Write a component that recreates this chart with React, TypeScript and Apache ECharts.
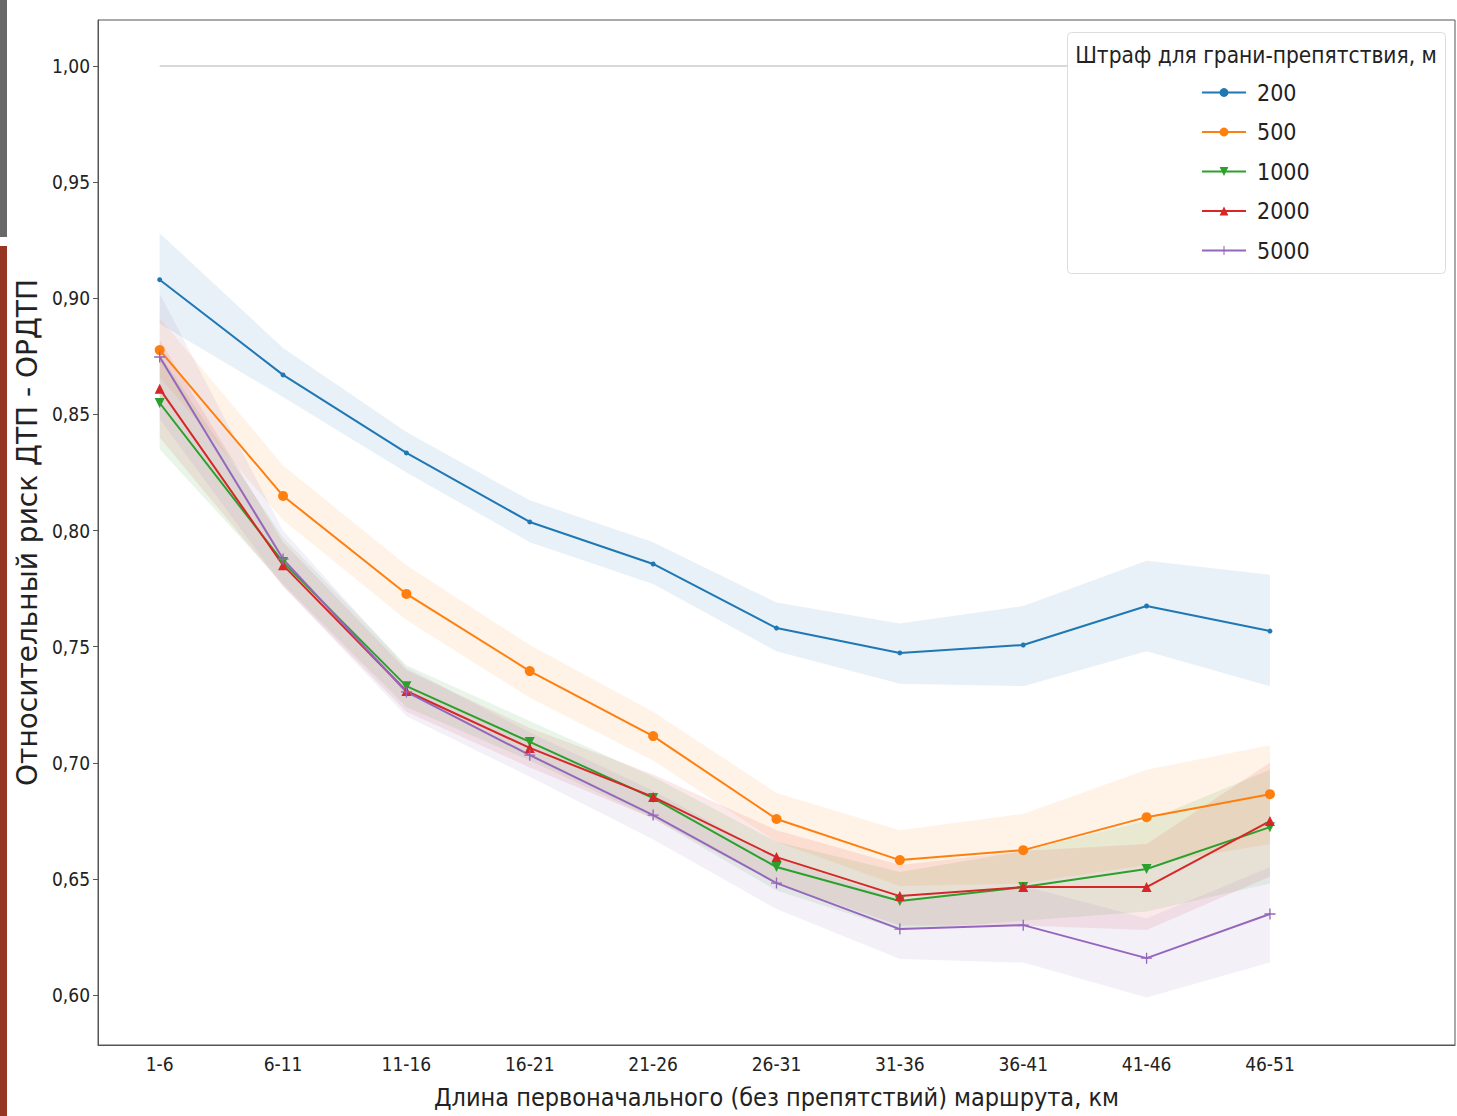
import React, { useEffect, useRef } from "react";
import * as echarts from "echarts";

const categories = ["1-6", "6-11", "11-16", "16-21", "21-26", "26-31", "31-36", "36-41", "41-46", "46-51", ""];
const yTicks = [0.6, 0.65, 0.7, 0.75, 0.8, 0.85, 0.9, 0.95, 1.0];
const seriesNames = ["200", "500", "1000", "2000", "5000"];
const legendTitle = "Штраф для грани-препятствия, м";
const xTitle = "Длина первоначального (без препятствий) маршрута, км";
const yTitle = "Относительный риск ДТП - ОРДТП";

const baseline = [1, 1, 1, 1, 1, 1, 1, 1, 1, 1];

const mean200 = [0.908, 0.867, 0.8334, 0.8037, 0.7856, 0.758, 0.7473, 0.7507, 0.7675, 0.7567];
const low200 = [0.889, 0.8575, 0.825, 0.795, 0.777, 0.748, 0.734, 0.733, 0.748, 0.733];
const high200 = [0.928, 0.8786, 0.8424, 0.813, 0.795, 0.769, 0.76, 0.7675, 0.787, 0.781];

const mean500 = [0.8777, 0.8149, 0.7727, 0.7395, 0.7115, 0.6758, 0.6581, 0.6624, 0.6766, 0.6865];
const low500 = [0.866, 0.8045, 0.7615, 0.728, 0.701, 0.666, 0.647, 0.648, 0.656, 0.665];
const high500 = [0.8915, 0.828, 0.785, 0.7507, 0.722, 0.687, 0.671, 0.678, 0.697, 0.7076];

const mean1000 = [0.8549, 0.7864, 0.733, 0.709, 0.6848, 0.6551, 0.6405, 0.6465, 0.6543, 0.6723];
const low1000 = [0.835, 0.777, 0.724, 0.701, 0.676, 0.645, 0.628, 0.632, 0.636, 0.648];
const high1000 = [0.876, 0.797, 0.742, 0.718, 0.694, 0.666, 0.653, 0.662, 0.675, 0.697];

const mean2000 = [0.861, 0.7851, 0.7309, 0.7064, 0.6853, 0.6594, 0.6426, 0.6465, 0.6465, 0.6749];
const low2000 = [0.84, 0.776, 0.722, 0.698, 0.676, 0.648, 0.63, 0.63, 0.628, 0.651];
const high2000 = [0.882, 0.795, 0.74, 0.715, 0.695, 0.671, 0.656, 0.662, 0.665, 0.7];

const mean5000 = [0.8747, 0.7877, 0.7305, 0.7033, 0.6775, 0.6482, 0.6284, 0.6301, 0.6159, 0.6349];
const low5000 = [0.848, 0.776, 0.72, 0.694, 0.667, 0.637, 0.6155, 0.614, 0.599, 0.614];
const high5000 = [0.902, 0.8, 0.741, 0.713, 0.688, 0.659, 0.641, 0.647, 0.633, 0.655];

const means = [mean200, mean500, mean1000, mean2000, mean5000];
const lows = [low200, low500, low1000, low2000, low5000];
const highs = [high200, high500, high1000, high2000, high5000];

const colors = ["#1f77b4", "#ff7f0e", "#2ca02c", "#d62728", "#9467bd"];
const crossPath = "path://M4.4,0h1.2v4.4h4.4v1.2h-4.4v4.4h-1.2v-4.4h-4.4v-1.2h4.4z";
const symbols = ["circle", "circle", "triangle", "triangle", crossPath];
const symbolSizes = [5, 10, 10, 10, 11];
const symbolRotates = [0, 0, 180, 0, 0];

const COND = "'DejaVu Sans Condensed', 'DejaVu Sans', sans-serif";

export default function App() {
  const ref = useRef<HTMLDivElement>(null);
  useEffect(() => {
    if (!ref.current) return;
    const chart = echarts.init(ref.current, null, { renderer: "svg" });

    const bandSeries: any[] = [];
    means.forEach((_, k) => {
      bandSeries.push({
        type: "line",
        name: "low" + k,
        stack: "band" + k,
        data: lows[k],
        symbol: "none",
        lineStyle: { opacity: 0 },
        silent: true,
        z: 1,
      });
      bandSeries.push({
        type: "line",
        name: "band" + k,
        stack: "band" + k,
        data: highs[k].map((h, i) => +(h - lows[k][i]).toFixed(4)),
        symbol: "none",
        lineStyle: { opacity: 0 },
        areaStyle: { color: colors[k], opacity: 0.1 },
        silent: true,
        z: 1,
      });
    });

    const lineSeries = means.map((m, k) => ({
      type: "line",
      name: seriesNames[k],
      data: m,
      color: colors[k],
      symbol: symbols[k],
      symbolSize: symbolSizes[k],
      symbolRotate: symbolRotates[k],
      showAllSymbol: true,
      lineStyle: { width: 2, color: colors[k] },
      itemStyle: { color: colors[k] },
      z: 3,
    }));

    chart.setOption({
      animation: false,
      grid: {
        left: 98,
        top: 20,
        right: 2,
        bottom: 71,
        outerBoundsMode: "none",
        containLabel: false,
        show: true,
        borderColor: "#555",
        borderWidth: 1,
        backgroundColor: "transparent",
      },
      xAxis: {
        type: "category",
        data: categories,
        boundaryGap: true,
        name: xTitle,
        nameLocation: "middle",
        nameGap: 40,
        nameTextStyle: { fontFamily: COND, fontSize: 25, color: "#222" },
        axisLine: { lineStyle: { color: "#555", width: 1 } },
        axisTick: {
          alignWithLabel: true,
          length: 5,
          lineStyle: { color: "#555" },
          interval: (i: number) => i < 10,
        },
        axisLabel: {
          fontFamily: COND,
          fontSize: 19,
          color: "#222",
          margin: 9,
          interval: 0,
        },
        splitLine: { show: false },
      },
      yAxis: {
        type: "value",
        min: 0.5785,
        max: 1.0198,
        name: yTitle,
        nameLocation: "middle",
        nameGap: 54,
        nameRotate: 90,
        nameTextStyle: { fontFamily: "'DejaVu Sans', sans-serif", fontSize: 28, color: "#222" },
        axisLine: { show: true, lineStyle: { color: "#555", width: 1 } },
        axisTick: { show: true, length: 5, lineStyle: { color: "#555" }, customValues: yTicks },
        axisLabel: {
          fontFamily: COND,
          fontSize: 19,
          color: "#222",
          margin: 8,
          customValues: yTicks,
          formatter: (v: number) => v.toFixed(2).replace(".", ","),
        },
        splitLine: { show: false },
      },
      legend: {
        data: seriesNames,
        orient: "vertical",
        left: 1196,
        top: 76,
        itemWidth: 44,
        itemHeight: 11,
        itemGap: 16.5,
        z: 20,
        textStyle: { fontFamily: COND, fontSize: 23, color: "#222", lineHeight: 22, padding: [0, 0, 0, 6] },
        selectedMode: false,
      },
      graphic: [
        { type: "rect", left: 0, top: 0, shape: { width: 7, height: 237 }, style: { fill: "#686868" }, z: 30 },
        { type: "rect", left: 0, top: 246, shape: { width: 7, height: 870 }, style: { fill: "#953522" }, z: 30 },
        {
          type: "rect",
          left: 1067,
          top: 32,
          shape: { width: 378, height: 241, r: 4 },
          style: { fill: "rgba(255,255,255,0.92)", stroke: "#dcdcdc", lineWidth: 1 },
          z: 15,
        },
        {
          type: "text",
          x: 1256,
          y: 55,
          style: {
            text: legendTitle,
            fontFamily: COND,
            fontSize: 22.5,
            fill: "#222",
            align: "center",
            verticalAlign: "middle",
          },
          z: 16,
        },
      ],
      series: [
        {
          type: "line",
          name: "baseline",
          data: baseline,
          symbol: "none",
          lineStyle: { color: "#d9d9d9", width: 2 },
          silent: true,
          z: 2,
        },
        ...bandSeries,
        ...lineSeries,
      ],
    });
    return () => chart.dispose();
  }, []);
  return (
    <div
      ref={ref}
      style={{ position: "fixed", left: 0, top: 0, width: 1457, height: 1116, background: "#fff" }}
    />
  );
}
